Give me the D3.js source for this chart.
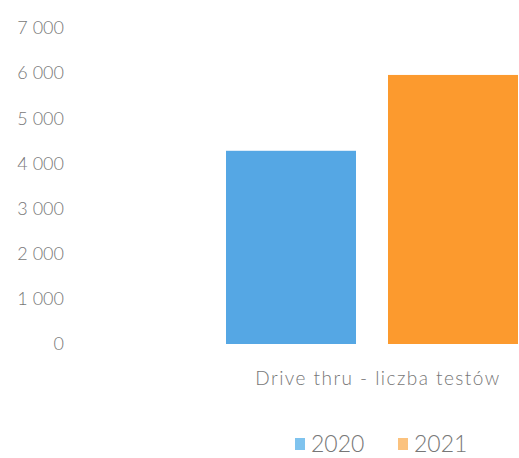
<!DOCTYPE html>
<html><head><meta charset="utf-8">
<script src="https://cdn.jsdelivr.net/npm/d3@7"></script>
<style>body{margin:0;background:#fff}svg{display:block}text{font-variant-ligatures:none;font-feature-settings:"liga" 0}</style>
</head><body>
<svg id="c" width="519" height="458"></svg>
<script>
const categories = ["Drive thru - liczba testów"];
const seriesNames = ["2020", "2021"];
const values2020 = [4280];
const values2021 = [5960];
const yTicks = [0, 1000, 2000, 3000, 4000, 5000, 6000, 7000];
const colors = ["#55a7e4", "#fc9a2e"];
const legendColors = ["#7fc3ee", "#fbc27e"];

const svg = d3.select("#c");
const y = d3.scaleLinear().domain([0, 7000]).range([344, 28]);
const x0 = d3.scaleBand().domain(categories).range([226, 518]).padding(0);
const x1 = d3.scaleBand().domain(seriesNames).range([0, x0.bandwidth()]).paddingInner(0.1975);

const fmt = v => d3.format(",")(v).replace(/,/g, " ");
const yAxis = d3.axisLeft(y).tickValues(yTicks).tickFormat(fmt).tickSize(0).tickPadding(0);
const ga = svg.append("g").attr("transform", "translate(64,0)").call(yAxis);
ga.select(".domain").remove();
ga.selectAll("text").attr("font-family", "Lato").attr("font-weight", 300).attr("font-size", 18).attr("fill", "#777");

const data = categories.map((c, i) => ({cat: c, vals: [values2020[i], values2021[i]]}));
const g = svg.append("g");
data.forEach(d => {
  g.selectAll(null).data(d.vals).enter().append("rect")
    .attr("x", (v, j) => x0(d.cat) + x1(seriesNames[j]))
    .attr("y", v => y(v))
    .attr("width", x1.bandwidth())
    .attr("height", v => y(0) - y(v))
    .attr("fill", (v, j) => colors[j]);
});

const xAxis = d3.axisBottom(x0).tickSize(0).tickPadding(0);
const gx = svg.append("g").attr("transform", "translate(0,372)").call(xAxis);
gx.select(".domain").remove();
gx.selectAll("text").attr("font-family", "Lato").attr("font-weight", 300).attr("font-size", 19)
  .attr("letter-spacing", 1.45).attr("fill", "#777").attr("dx", 6).attr("dy", "0.68em");

const legendX = [295, 398];
const lg = svg.append("g");
seriesNames.forEach((s, i) => {
  lg.append("rect").attr("x", legendX[i]).attr("y", 438).attr("width", 10).attr("height", 12).attr("fill", legendColors[i]);
  lg.append("text").attr("x", legendX[i] + 16).attr("y", 452).text(s)
    .attr("font-family", "Lato").attr("font-weight", 300).attr("font-size", 23).attr("fill", "#777");
});
</script>
</body></html>
